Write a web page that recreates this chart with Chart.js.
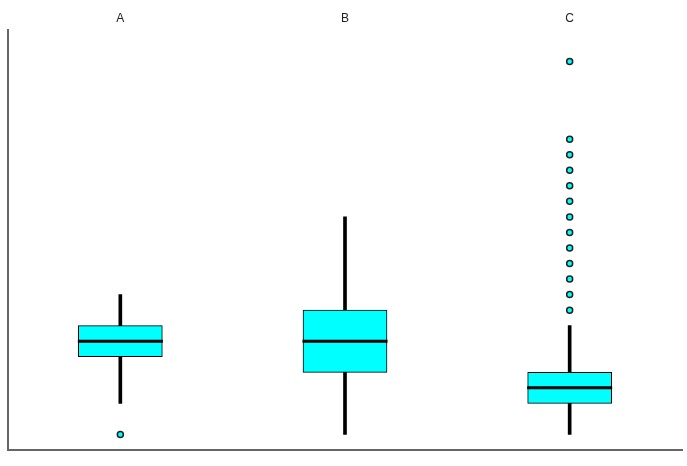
<!DOCTYPE html>
<html lang="en">
<head>
<meta charset="utf-8"/>
<title>Box plot</title>
<script src="https://cdn.jsdelivr.net/npm/chart.js"></script>
<style>
  html, body { margin: 0; padding: 0; background: #fff; }
  #wrap { width: 687px; height: 466px; }
</style>
</head>
<body>
<div id="wrap"><canvas id="boxChart" width="687" height="466"></canvas></div>
<script>
  // box plot summary per group
  const groups = ['A', 'B', 'C'];
  const whiskerLow = [3, 1, 1];
  const q1 = [6, 5, 3];
  const median = [7, 7, 4];
  const q3 = [8, 9, 5];
  const whiskerHigh = [10, 15, 8];
  const outliersA = [1];
  const outliersB = [];
  const outliersC = [9, 10, 11, 12, 13, 14, 15, 16, 17, 18, 19, 20, 25];

  const outlierPoints = [];
  outliersA.forEach(v => outlierPoints.push({ x: 'A', y: v }));
  outliersB.forEach(v => outlierPoints.push({ x: 'B', y: v }));
  outliersC.forEach(v => outlierPoints.push({ x: 'C', y: v }));

  const ctx = document.getElementById('boxChart');
  new Chart(ctx, {
    type: 'bar',
    data: {
      labels: groups,
      datasets: [
        {
          // median line
          type: 'line',
          data: groups.map((g, i) => ({ x: g, y: median[i] })),
          showLine: false,
          pointStyle: 'line',
          pointRadius: 42.5,
          pointHoverRadius: 42.5,
          borderColor: '#000',
          borderWidth: 3,
          order: 0
        },
        {
          type: 'line',
          data: outlierPoints,
          showLine: false,
          pointRadius: 3,
          pointHoverRadius: 3,
          backgroundColor: '#00ffff',
          borderColor: '#222',
          borderWidth: 1.5,
          order: 1
        },
        {
          // box q1..q3
          data: groups.map((g, i) => [q1[i], q3[i]]),
          backgroundColor: '#00ffff',
          borderColor: '#000',
          borderWidth: 1,
          borderSkipped: false,
          barThickness: 84,
          grouped: false,
          order: 2
        },
        {
          // whiskers
          data: groups.map((g, i) => [whiskerLow[i], whiskerHigh[i]]),
          backgroundColor: '#000',
          borderWidth: 0,
          barThickness: 3,
          grouped: false,
          order: 3
        }
      ]
    },
    options: {
      responsive: false,
      animation: false,
      layout: { autoPadding: false, padding: { left: 0, right: 5, top: 6, bottom: 8 } },
      plugins: { legend: { display: false }, tooltip: { enabled: false } },
      scales: {
        x: {
          position: 'bottom',
          grid: { display: false },
          ticks: { display: false },
          border: { display: true, color: '#666', width: 2 }
        },
        xTop: {
          type: 'category',
          labels: groups,
          position: 'top',
          grid: { display: false, tickLength: 0 },
          border: { display: false },
          ticks: { color: '#222', font: { family: 'Liberation Sans', size: 12 }, padding: 5 }
        },
        y: {
          min: 0,
          max: 27,
          grid: { display: false },
          ticks: { display: false },
          border: { display: true, color: '#666', width: 2 }
        }
      }
    }
  });
</script>
</body>
</html>
